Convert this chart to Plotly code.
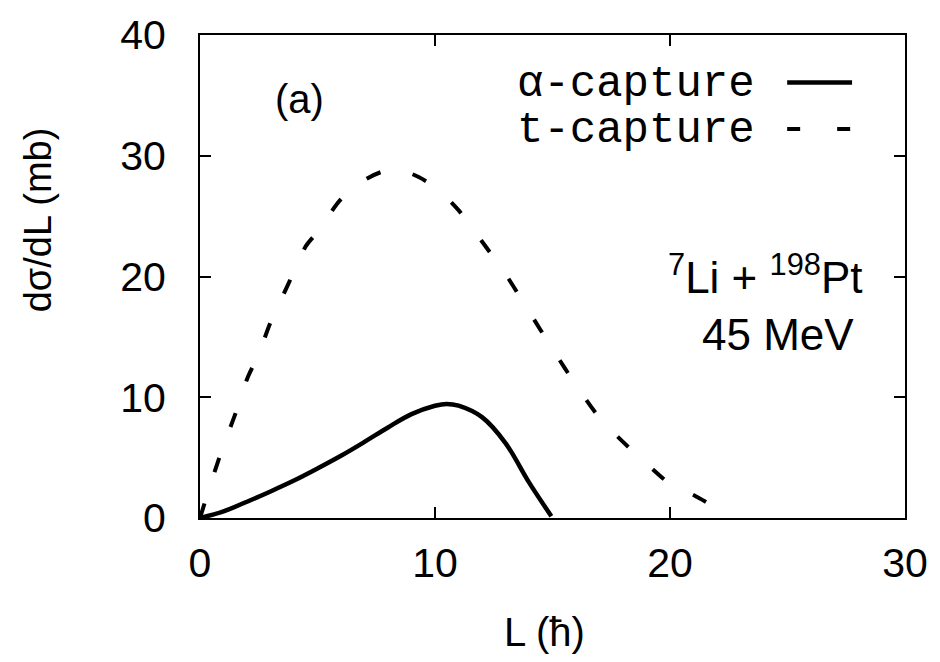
import plotly.graph_objects as go

# Data
L_alpha = [0, 1, 2, 3, 4, 5, 6, 7, 8, 9, 10, 10.5, 11, 12, 13, 14, 14.95]
alpha_capture = [0, 0.55, 1.35, 2.2, 3.1, 4.1, 5.15, 6.3, 7.5, 8.6, 9.3, 9.45, 9.3, 8.35, 6.2, 2.95, 0.15]

L_t = [0, 0.5, 1, 1.5, 2, 2.5, 3, 3.5, 4, 4.5, 5, 6, 7, 8, 9, 10, 11, 12, 13, 14,
       15, 16, 17, 18, 19, 20, 21, 22, 22.4]
t_capture = [0, 3.1, 6.0, 8.6, 11.5, 13.6, 16.2, 18.3, 20.4, 22.5, 23.7, 26.4, 28.0, 28.8,
             28.5, 27.4, 25.5, 22.9, 20.2, 17.1, 14.0, 11.0, 8.3, 6.3, 4.5, 2.83, 1.9, 0.8, 0.39]

x_ticks = [0, 10, 20, 30]
y_ticks = [0, 10, 20, 30, 40]

W, H = 940, 662
ML, MR, MT, MB = 200, 34, 30, 144
PW, PH = W - ML - MR, H - MT - MB


def px(x):
    return (x - ML) / PW


def py(y):
    return (H - MB - y) / PH


fig = go.Figure()
fig.add_trace(go.Scatter(x=L_alpha, y=alpha_capture, mode="lines", name="α-capture",
                         line=dict(color="black", width=4.5, shape="spline", smoothing=1.0),
                         showlegend=False))
fig.add_trace(go.Scatter(x=L_t, y=t_capture, mode="lines", name="t-capture",
                         line=dict(color="black", width=4, dash="15px,33px", shape="spline", smoothing=0.8),
                         showlegend=False))

font_sans = "Liberation Sans, Arial, sans-serif"
font_mono = "Courier New, Liberation Mono, monospace"

axis_common = dict(showline=True, linecolor="black", linewidth=2, mirror="ticks",
                   ticks="inside", ticklen=11, tickwidth=1.5, tickcolor="black",
                   showgrid=False, zeroline=False,
                   tickfont=dict(family=font_sans, size=41, color="black"))

fig.update_layout(
    width=W, height=H,
    margin=dict(l=ML, r=MR, t=MT, b=MB),
    paper_bgcolor="white", plot_bgcolor="white",
    xaxis=dict(range=[0, 30], tickvals=x_ticks, ticklabelstandoff=8, **axis_common),
    yaxis=dict(range=[0, 40], tickvals=y_ticks, ticklabelstandoff=24, **axis_common),
    showlegend=False,
)

ann = []
ann.append(dict(text="dσ/dL (mb)", x=px(38), y=py(217), textangle=-90,
                font=dict(family=font_sans, size=38, color="black")))
ann.append(dict(text="L (ħ)", x=px(545), y=py(633),
                font=dict(family=font_sans, size=40, color="black")))
ann.append(dict(text="(a)", x=px(300), y=py(95),
                font=dict(family=font_sans, size=40, color="black")))
ann.append(dict(text="<sup>7</sup>Li + <sup>198</sup>Pt", x=px(866), y=py(272), xanchor="right",
                font=dict(family=font_sans, size=44, color="black")))
ann.append(dict(text="45 MeV", x=px(857), y=py(333), xanchor="right",
                font=dict(family=font_sans, size=44, color="black")))
ann.append(dict(text="α-capture", x=px(758), y=py(80), xanchor="right",
                font=dict(family=font_mono, size=44, color="black")))
ann.append(dict(text="t-capture", x=px(758), y=py(126), xanchor="right",
                font=dict(family=font_mono, size=44, color="black")))
for a in ann:
    a.update(xref="paper", yref="paper", showarrow=False, yanchor=a.get("yanchor", "middle"),
             xanchor=a.get("xanchor", "center"))
fig.update_layout(annotations=ann)

fig.add_shape(type="line", xref="paper", yref="paper", x0=px(788), x1=px(853), y0=py(78), y1=py(78),
              line=dict(color="black", width=4.5))
fig.add_shape(type="line", xref="paper", yref="paper", x0=px(788), x1=px(853), y0=py(125), y1=py(125),
              line=dict(color="black", width=4, dash="13px,37px"))

fig.write_html("out.html")
